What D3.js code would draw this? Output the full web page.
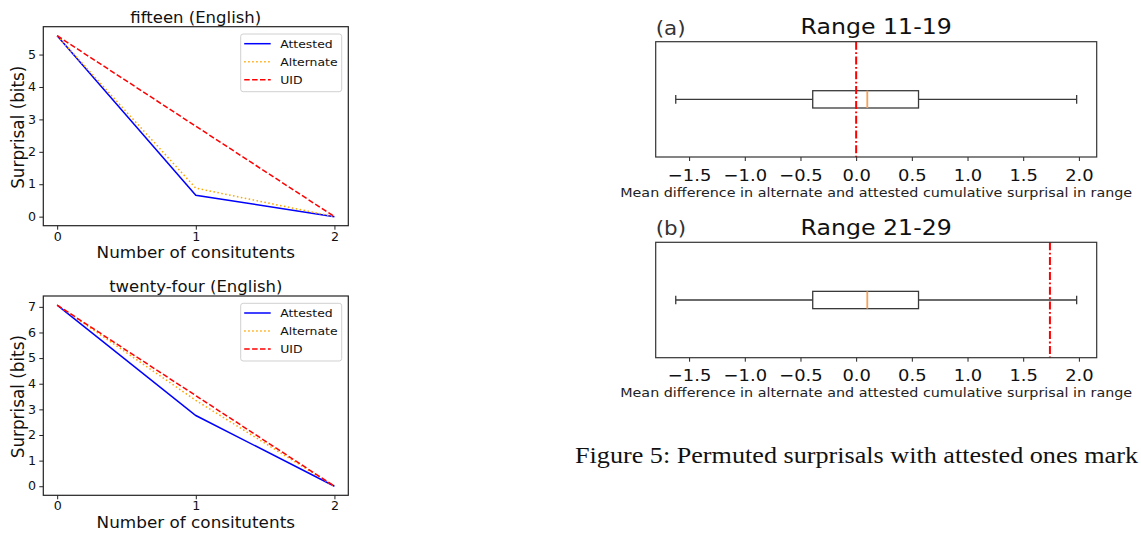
<!DOCTYPE html>
<html>
<head>
<meta charset="utf-8">
<script src="https://cdn.jsdelivr.net/npm/d3@7"></script>
<style>
  html, body { margin: 0; padding: 0; background: #fff; }
  svg { display: block; }
  text { font-family: "DejaVu Sans", sans-serif; }
  text.caption { font-family: "Liberation Serif", "Times New Roman", serif; }
</style>
</head>
<body>
<svg id="chart" width="1141" height="533"></svg>
<script>
// ---------------- data ----------------
const steps = [0, 1, 2];
const fifteenAttested  = [5.58, 0.66, 0];
const fifteenAlternate = [5.58, 0.88, 0];
const fifteenUID       = [5.58, 2.79, 0];
const twentyFourAttested  = [7.07, 2.76, 0];
const twentyFourAlternate = [7.07, 3.35, 0];
const twentyFourUID       = [7.07, 3.535, 0];
const fifteenYTicks = [0, 1, 2, 3, 4, 5];
const twentyFourYTicks = [0, 1, 2, 3, 4, 5, 6, 7];
const seriesNames = ["Attested", "Alternate", "UID"];

// box plot summary (same distribution in both panels)
const boxStats = { low: -1.62, q1: -0.39, median: 0.10, q3: 0.56, high: 1.98 };
const attestedA = 0.0;   // Range 11-19
const attestedB = 1.74;  // Range 21-29
const boxXTicks = [-1.5, -1.0, -0.5, 0.0, 0.5, 1.0, 1.5, 2.0];

// ---------------- helpers ----------------
const SX = 1.1; // horizontal stretch of the reference image
function stretch(sel, factor) {
  const f = factor || SX;
  sel.each(function () {
    const w = this.getComputedTextLength();
    if (w > 0) {
      this.setAttribute("textLength", w * f);
      this.setAttribute("lengthAdjust", "spacingAndGlyphs");
    }
  });
  return sel;
}
const svg = d3.select("#chart");

// ---------------- line panels ----------------
const lineStyles = {
  Attested:  { color: "#0000ff", dash: null },
  Alternate: { color: "#ffa500", dash: "1.5,2.5" },
  UID:       { color: "#ff0000", dash: "5.5,2.4" }
};

function linePanel(cfg) {
  const L = 43.3, R = 348.3;
  const g = svg.append("g");
  const x = d3.scaleLinear().domain([-0.1, 2.1]).range([L, R]);
  const yMax = cfg.max;
  const y = d3.scaleLinear().domain([-0.05 * yMax, 1.05 * yMax]).range([cfg.bottom, cfg.top]);

  const xa = g.append("g").attr("transform", `translate(0,${cfg.bottom})`)
    .call(d3.axisBottom(x).tickValues(steps).tickFormat(d3.format("d")).tickSize(4).tickPadding(3));
  const ya = g.append("g").attr("transform", `translate(${L},0)`)
    .call(d3.axisLeft(y).tickValues(cfg.yTicks).tickFormat(d3.format("d")).tickSize(4).tickPadding(3.3));
  [xa, ya].forEach(a => {
    a.select(".domain").remove();
    a.selectAll("line").attr("stroke", "#222");
    a.selectAll("text").attr("font-size", 11.5).attr("fill", "#111");
    stretch(a.selectAll("text"));
  });

  const line = d3.line().x((d, i) => x(steps[i])).y(d => y(d));
  cfg.series.forEach((vals, i) => {
    const st = lineStyles[seriesNames[i]];
    g.append("path").datum(vals).attr("d", line)
      .attr("fill", "none").attr("stroke", st.color).attr("stroke-width", 1.5)
      .attr("stroke-dasharray", st.dash);
  });

  g.append("rect").attr("x", L).attr("y", cfg.top).attr("width", R - L).attr("height", cfg.bottom - cfg.top)
    .attr("fill", "none").attr("stroke", "#222").attr("stroke-width", 1.2);

  // title
  stretch(g.append("text").attr("x", (L + R) / 2).attr("y", cfg.top - 3.6)
    .attr("text-anchor", "middle").attr("font-size", 15).attr("fill", "#111").text(cfg.title));
  // x label
  stretch(g.append("text").attr("x", (L + R) / 2).attr("y", cfg.bottom + 32.5)
    .attr("text-anchor", "middle").attr("font-size", 15.3).attr("fill", "#111").text("Number of consitutents"));
  // y label
  g.append("text").attr("transform", `translate(23.5,${(cfg.top + cfg.bottom) / 2 + 1}) scale(${SX},1) rotate(-90)`)
    .attr("text-anchor", "middle").attr("font-size", 16.8).attr("fill", "#111").text("Surprisal (bits)");

  // legend
  const lg = g.append("g").attr("transform", `translate(240.7,${cfg.top + 7.3})`);
  lg.append("rect").attr("width", 101).attr("height", 57.7).attr("rx", 2.5)
    .attr("fill", "#fff").attr("fill-opacity", 0.8).attr("stroke", "#d0d0d0").attr("stroke-width", 1);
  seriesNames.forEach((n, i) => {
    const yy = 9.7 + i * 18;
    const st = lineStyles[n];
    lg.append("line").attr("x1", 3.5).attr("x2", 30).attr("y1", yy).attr("y2", yy)
      .attr("stroke", st.color).attr("stroke-width", 1.5).attr("stroke-dasharray", st.dash);
    stretch(lg.append("text").attr("x", 39.5).attr("y", yy + 4).attr("font-size", 11.3).attr("fill", "#111").text(n));
  });
}

linePanel({ top: 26.7, bottom: 225.7, max: 5.58, yTicks: fifteenYTicks, title: "fifteen (English)",
  series: [fifteenAttested, fifteenAlternate, fifteenUID] });
linePanel({ top: 296, bottom: 495.3, max: 7.07, yTicks: twentyFourYTicks, title: "twenty-four (English)",
  series: [twentyFourAttested, twentyFourAlternate, twentyFourUID] });

// ---------------- box panels ----------------
function boxPanel(cfg) {
  const L = 655.7, R = 1096.7;
  const g = svg.append("g");
  const x = d3.scaleLinear().domain([-1.8, 2.16]).range([L, R]);
  const y = d3.scaleLinear().domain([0.5, 1.5]).range([cfg.bottom, cfg.top]);
  const pos = 1, bw = 0.15;

  const xa = g.append("g").attr("transform", `translate(0,${cfg.bottom})`)
    .call(d3.axisBottom(x).tickValues(boxXTicks).tickFormat(d3.format(".1f")).tickSize(4).tickPadding(8));
  xa.select(".domain").remove();
  xa.selectAll("line").attr("stroke", "#222");
  xa.selectAll("text").attr("font-size", 16.3).attr("fill", "#111");
  stretch(xa.selectAll("text"));

  const s = boxStats, c = "#3a3a3a";
  g.append("line").attr("x1", x(s.low)).attr("x2", x(s.q1)).attr("y1", y(pos)).attr("y2", y(pos)).attr("stroke", c).attr("stroke-width", 1.3);
  g.append("line").attr("x1", x(s.q3)).attr("x2", x(s.high)).attr("y1", y(pos)).attr("y2", y(pos)).attr("stroke", c).attr("stroke-width", 1.3);
  [s.low, s.high].forEach(v => g.append("line").attr("x1", x(v)).attr("x2", x(v))
    .attr("y1", y(pos - bw / 4)).attr("y2", y(pos + bw / 4)).attr("stroke", c).attr("stroke-width", 1.3));
  g.append("rect").attr("x", x(s.q1)).attr("width", x(s.q3) - x(s.q1))
    .attr("y", y(pos + bw / 2)).attr("height", y(pos - bw / 2) - y(pos + bw / 2))
    .attr("fill", "none").attr("stroke", c).attr("stroke-width", 1.3);
  g.append("line").attr("x1", x(s.median)).attr("x2", x(s.median))
    .attr("y1", y(pos + bw / 2)).attr("y2", y(pos - bw / 2)).attr("stroke", "#f7a058").attr("stroke-width", 1.8);

  g.append("line").attr("x1", x(cfg.mark)).attr("x2", x(cfg.mark)).attr("y1", cfg.top).attr("y2", cfg.bottom)
    .attr("stroke", "#ff0000").attr("stroke-width", 2).attr("stroke-dasharray", "8,2.5,1.8,2.5");

  g.append("rect").attr("x", L).attr("y", cfg.top).attr("width", R - L).attr("height", cfg.bottom - cfg.top)
    .attr("fill", "none").attr("stroke", "#333").attr("stroke-width", 1.2);

  stretch(g.append("text").attr("x", (L + R) / 2).attr("y", cfg.top - 7.7).attr("text-anchor", "middle")
    .attr("font-size", 21.5).attr("fill", "#111").text(cfg.title));
  stretch(g.append("text").attr("x", L).attr("y", cfg.top - 7.2)
    .attr("font-size", 19.5).attr("fill", "#333").text(cfg.label));
  stretch(g.append("text").attr("x", (L + R) / 2).attr("y", cfg.bottom + 39.7).attr("text-anchor", "middle")
    .attr("font-size", 13).attr("fill", "#222").text("Mean difference in alternate and attested cumulative surprisal in range"));
}

boxPanel({ top: 41.7, bottom: 157, title: "Range 11-19", label: "(a)", mark: attestedA });
boxPanel({ top: 242.3, bottom: 357.7, title: "Range 21-29", label: "(b)", mark: attestedB });

// ---------------- caption ----------------
svg.append("text").attr("class", "caption").attr("x", 575).attr("y", 463.3)
  .attr("font-size", 24).attr("fill", "#111")
  .attr("textLength", 563).attr("lengthAdjust", "spacingAndGlyphs")
  .text("Figure 5: Permuted surprisals with attested ones mark");
</script>
</body>
</html>
